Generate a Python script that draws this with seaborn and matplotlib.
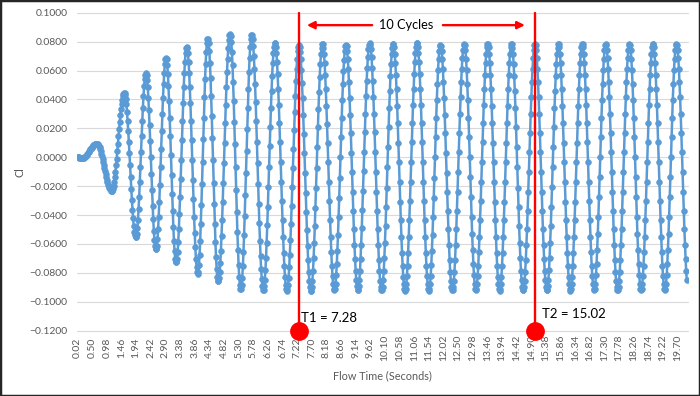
import numpy as np
import pandas as pd
import matplotlib.pyplot as plt
import seaborn as sns
from matplotlib.patches import Rectangle
from matplotlib.ticker import StrMethodFormatter

# Lift coefficient extrema (time in seconds, Cl)
start_time = 0.02
start_cl = 0.0
peak_times = [0.65, 1.55, 2.26, 2.92, 3.60, 4.29, 5.02, 5.73, 6.49, 7.28,
              8.05, 8.82, 9.60, 10.37, 11.15, 11.92, 12.70, 13.47, 14.25, 15.02,
              15.79, 16.57, 17.34, 18.12, 18.89, 19.66]
peak_cl = [0.0095, 0.0447, 0.0580, 0.0690, 0.0766, 0.0822, 0.0855, 0.0846, 0.0790, 0.0775,
           0.0783, 0.0778, 0.0790, 0.0785, 0.0790, 0.0780, 0.0785, 0.0785, 0.0785, 0.0785,
           0.0785, 0.0785, 0.0785, 0.0785, 0.0785, 0.0785]
trough_times = [0.16, 1.14, 1.93, 2.59, 3.25, 3.96, 4.63, 5.37, 6.11, 6.88,
                7.67, 8.44, 9.21, 9.99, 10.76, 11.54, 12.31, 13.08, 13.86, 14.63,
                15.41, 16.18, 16.96, 17.73, 18.50, 19.28, 20.05]
trough_cl = [-0.0008, -0.0235, -0.0556, -0.0640, -0.0730, -0.0806, -0.0862, -0.0915, -0.0920, -0.0925,
             -0.0925, -0.0920, -0.0918, -0.0923, -0.0923, -0.0923, -0.0923, -0.0920, -0.0923, -0.0923,
             -0.0920, -0.0923, -0.0920, -0.0923, -0.0920, -0.0920, -0.0920]

# solver output every 0.02 s, last sample at 20.00 s
time_step = 0.02
n_samples = 1000

# annotation values
mark_times = [7.28, 15.02]
mark_labels = ['T1 = 7.28', 'T2 = 15.02']
mark_label_x = [7.35, 15.24]
mark_label_y = [-0.1109, -0.1085]

# smooth half-wave between consecutive extrema
ext = sorted(zip([start_time] + peak_times + trough_times, [start_cl] + peak_cl + trough_cl))
kt = np.array([e[0] for e in ext])
kv = np.array([e[1] for e in ext])
time = np.round(np.arange(1, n_samples + 1) * time_step, 2)
seg = np.clip(np.searchsorted(kt, time, side='right') - 1, 0, len(kt) - 2)
s = (time - kt[seg]) / (kt[seg + 1] - kt[seg])
cl = kv[seg] + (kv[seg + 1] - kv[seg]) * (1 - np.cos(np.pi * s)) / 2
df = pd.DataFrame({'time': time, 'cl': cl})

sns.set_style('white')
plt.rcParams['font.family'] = ['Lato', 'DejaVu Sans']

fig = plt.figure(figsize=(7, 3.96), dpi=100)
ax = fig.add_axes([0.11, 0.1649, 0.8729, 0.8030])

sns.lineplot(data=df, x='time', y='cl', ax=ax, color='#5B9BD5', lw=1.8,
             marker='o', markersize=4.2, markeredgecolor='#5B9BD5', markeredgewidth=0.4,
             estimator=None, sort=False, zorder=3)

ax.set_xlim(0, 20.04)
ax.set_ylim(-0.12, 0.10)
ax.set_yticks(np.round(np.arange(-0.12, 0.101, 0.02), 2))
ax.yaxis.set_major_formatter(StrMethodFormatter('{x:.4f}'))
tick_times = np.round(np.arange(0.02, 19.71, 0.48), 2)
ax.set_xticks(tick_times)
ax.set_xticklabels([f'{t:.2f}' for t in tick_times], rotation=90, va='center')

ax.tick_params(axis='both', length=0, labelsize=7.5, labelcolor='#595959')
ax.tick_params(axis='x', pad=12.5)
ax.tick_params(axis='y', pad=7)
ax.grid(axis='y', color='#D9D9D9', lw=0.8)
ax.grid(axis='x', visible=False)
for line in ax.get_ygridlines():
    line.set_clip_on(False)
for sp in ax.spines.values():
    sp.set_visible(False)

ax.set_xlabel('Flow Time (Seconds)', fontsize=7.8, color='#595959')
ax.xaxis.label.set_va('center')
ax.xaxis.set_label_coords(0.5, -0.1425)
ax.set_ylabel('Cl', fontsize=7.8, color='#595959')
ax.yaxis.label.set_va('center')
ax.yaxis.set_label_coords(-0.0933, 0.5)

# T1 / T2 markers
for t, txt, tx, ty in zip(mark_times, mark_labels, mark_label_x, mark_label_y):
    ax.plot([t, t], [-0.12, 0.10], color='red', lw=1.7, clip_on=False, zorder=5)
    ax.plot(t, -0.12, 'o', color='red', markersize=12.5, clip_on=False, zorder=6)
    ax.text(tx, ty, txt, fontsize=9.5, color='black', ha='left', va='center')

# 10 cycles arrow
arrow_y = 0.0914
ax.text(10.79, arrow_y, '10 Cycles', fontsize=9.2, color='black', ha='center', va='center')
ax.annotate('', xy=(7.54, arrow_y), xytext=(9.68, arrow_y),
            arrowprops=dict(arrowstyle='-|>', color='red', lw=1.7, mutation_scale=11,
                            shrinkA=0, shrinkB=0))
ax.annotate('', xy=(14.69, arrow_y), xytext=(12.0, arrow_y),
            arrowprops=dict(arrowstyle='-|>', color='red', lw=1.7, mutation_scale=11,
                            shrinkA=0, shrinkB=0))

fig.patches.append(Rectangle((0, 0), 1, 1, transform=fig.transFigure, fill=False,
                             edgecolor='#262626', lw=2.5))

fig.savefig('out.png', dpi=100)
